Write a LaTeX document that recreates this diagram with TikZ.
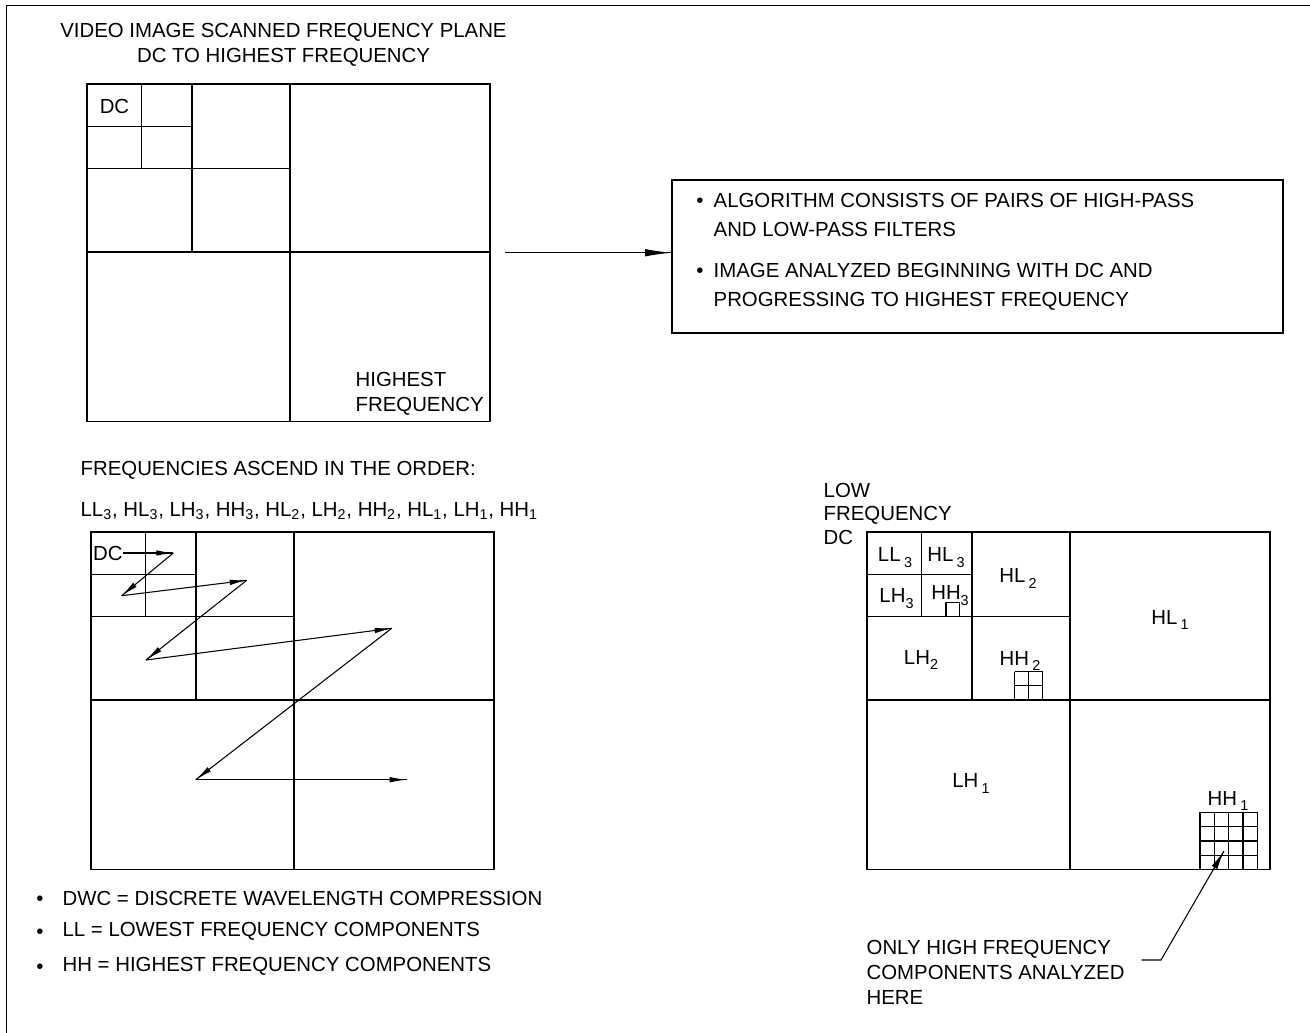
\documentclass[tikz,border=0pt]{standalone}
\usepackage{fontspec}
\setmainfont{Liberation Sans}
\usetikzlibrary{arrows.meta}
\usetikzlibrary{decorations.markings}

\newcommand\lblfont{\fontsize{11.6}{14.2}\selectfont}
\newcommand\boxfont{\fontsize{11.6}{16.3}\selectfont}
\newcommand\lsub[1]{\raisebox{-3.4pt}{\fontsize{8.2}{9}\selectfont #1}}
\tikzset{lbl/.style = {inner sep = 0, font = \lblfont}}
\tikzset{dot/.style = {inner sep = 0, font = \lblfont, anchor = base}}
\tikzset{plane/.style = {draw, inner sep = 0, outer sep = 0,
                         minimum width = 8.06cm, minimum height = 6.75cm}}
\tikzset{scanarrow/.style = {decoration={markings,
                                  mark=at position 1 with {\arrow{Latex[length=3.4mm, width=1.1mm]}}},
                      postaction={decorate}}}
\tikzset{bigarrow/.style = {decoration={markings,
                                  mark=at position 1 with {\arrow{Latex[length=5.4mm, width=1.5mm]}}},
                      postaction={decorate}}}
\tikzset{leadarrow/.style = {decoration={markings,
                                  mark=at position 1 with {\arrow{Latex[length=3.8mm, width=1.3mm]}}},
                      postaction={decorate}}}

% quadrant split of a frequency plane, three levels deep
\newcommand\splitplane[1]{%
  \begin{scope}[shift={(#1.north west)}]
    \draw (203,0) -- (203,337.5) (0,168) -- (403,168);
    \draw (105,0) -- (105,168) (0,84.5) -- (203,84.5);
    \draw (54.7,0) -- (54.7,84.5) (0,42.3) -- (105,42.3);
  \end{scope}}

\begin{document}
\begin{tikzpicture}[x=0.02cm, y=-0.02cm, line width=0.75pt]
  \useasboundingbox (0,0) rectangle (1310,1033);
  \draw [line width=1.1pt] (6.5,1033) -- (6.5,5.5) -- (1310,5.5);

  \node [lbl, align=center, anchor=north] (title) at (283.5,22.7)
        {VIDEO IMAGE SCANNED FREQUENCY PLANE\\DC TO HIGHEST FREQUENCY};

  % scanned plane
  \node [plane] (p1) at (288.5,252.75) {};
  \splitplane{p1}
  \node [lbl] (dc1) at (114.5,106) {DC};
  \node [lbl, align=left, anchor=north west] (high) at (355,371.7) {HIGHEST\\FREQUENCY};

  % notes
  \node [draw, inner sep=0, outer sep=0, minimum width=12.22cm, minimum height=3.06cm] (box) at (977.5,256.5) {};
  \node [dot] (b1) at (700,207.3) {\textbullet};
  \node [lbl, font=\boxfont, align=left, anchor=north west] (algo) at (713,192.7)
        {ALGORITHM CONSISTS OF PAIRS OF HIGH-PASS\\AND LOW-PASS FILTERS};
  \node [dot] (b2) at (700,277.3) {\textbullet};
  \node [lbl, font=\boxfont, align=left, anchor=north west] (scan) at (713,262.7)
        {IMAGE ANALYZED BEGINNING WITH DC AND\\PROGRESSING TO HIGHEST FREQUENCY};
  \draw [bigarrow] ([xshift=0.3cm]p1.east) -- (p1.east -| box.west);

  % scan order
  \node [lbl, anchor=west] (ordhead) at (80,470) {FREQUENCIES ASCEND IN THE ORDER:};
  \node [lbl, anchor=base west] (order) at (80,516.3)
        {LL\textsubscript{3}, HL\textsubscript{3}, LH\textsubscript{3}, HH\textsubscript{3}, HL\textsubscript{2},
         LH\textsubscript{2}, HH\textsubscript{2}, HL\textsubscript{1}, LH\textsubscript{1}, HH\textsubscript{1}};
  \node [plane] (p2) at (292.5,700.75) {};
  \splitplane{p2}
  \node [lbl, anchor=west] (dc2) at (92.5,553) {DC};
  \coordinate (z1) at (173.3,553);
  \coordinate (z2) at (121.7,595.7);
  \coordinate (z3) at (246.7,580.3);
  \coordinate (z4) at (146,660);
  \coordinate (z5) at (391.7,628.3);
  \coordinate (z6) at (195.7,779.7);
  \coordinate (z7) at (406.7,779.7);
  \foreach \a/\b in {dc2.east/z1, z1/z2, z2/z3, z3/z4, z4/z5, z5/z6, z6/z7}
    \draw [scanarrow, line width=0.6pt] (\a) -- (\b);

  \node [dot] at (40,905.3) {\textbullet};
  \node [lbl, anchor=west] (dwc) at (62,898) {DWC = DISCRETE WAVELENGTH COMPRESSION};
  \node [dot] at (40,938.3) {\textbullet};
  \node [lbl, anchor=west] (ll) at (62,931) {LL = LOWEST FREQUENCY COMPONENTS};
  \node [dot] at (40,973.3) {\textbullet};
  \node [lbl, anchor=west] (hh) at (62,966) {HH = HIGHEST FREQUENCY COMPONENTS};

  % subbands
  \node [lbl, font=\fontsize{11.6}{13.3}\selectfont, align=left, anchor=north west] (lowdc) at (823,482.7)
        {LOW\\FREQUENCY\\DC};
  \node [plane] (p3) at (1068.5,700.75) {};
  \splitplane{p3}
  \node [lbl, anchor=base] (ll3) at (895,561.5) {LL\,\lsub{3}};
  \node [lbl, anchor=base] (hl3) at (946,561.5) {HL\,\lsub{3}};
  \node [lbl, anchor=base] (lh3) at (896.5,602.5) {LH\lsub{3}};
  \node [lbl, anchor=base] (hh3) at (950,599.5) {HH\lsub{3}};
  \node [lbl, anchor=base] (hl2) at (1018,582.5) {HL\,\lsub{2}};
  \node [lbl, anchor=base] (lh2) at (921,664) {LH\lsub{2}};
  \node [lbl, anchor=base] (hh2) at (1020,665) {HH\,\lsub{2}};
  \node [lbl, anchor=base] (hl1) at (1170,624) {HL\,\lsub{1}};
  \node [lbl, anchor=base] (lh1) at (971,787.5) {LH\,\lsub{1}};
  \node [lbl, anchor=base] (hh1) at (1228,805) {HH\,\lsub{1}};

  \draw (946,602.5) rectangle (959.8,616.3);
  \begin{scope}[shift={(1014.7,671.7)}]
    \foreach \k in {0,1,2}
      \draw (\k*14,0) -- (\k*14,28) (0,\k*14) -- (28,\k*14);
  \end{scope}
  \begin{scope}[shift={(1200,812.3)}]
    \foreach \k in {0,...,4}
      \draw (\k*14.3,0) -- (\k*14.3,57.2) (0,\k*14.3) -- (57.2,\k*14.3);
  \end{scope}

  \node [lbl, align=left, anchor=north west] (only) at (866,939.5)
        {ONLY HIGH FREQUENCY\\COMPONENTS ANALYZED\\HERE};
  \coordinate (lead) at (1141.7,960);
  \coordinate (hhtip) at (1224,851);
  \draw [leadarrow, line width=0.6pt] (lead) -- ++(19.3,0) -- (hhtip);
\end{tikzpicture}
\end{document}
